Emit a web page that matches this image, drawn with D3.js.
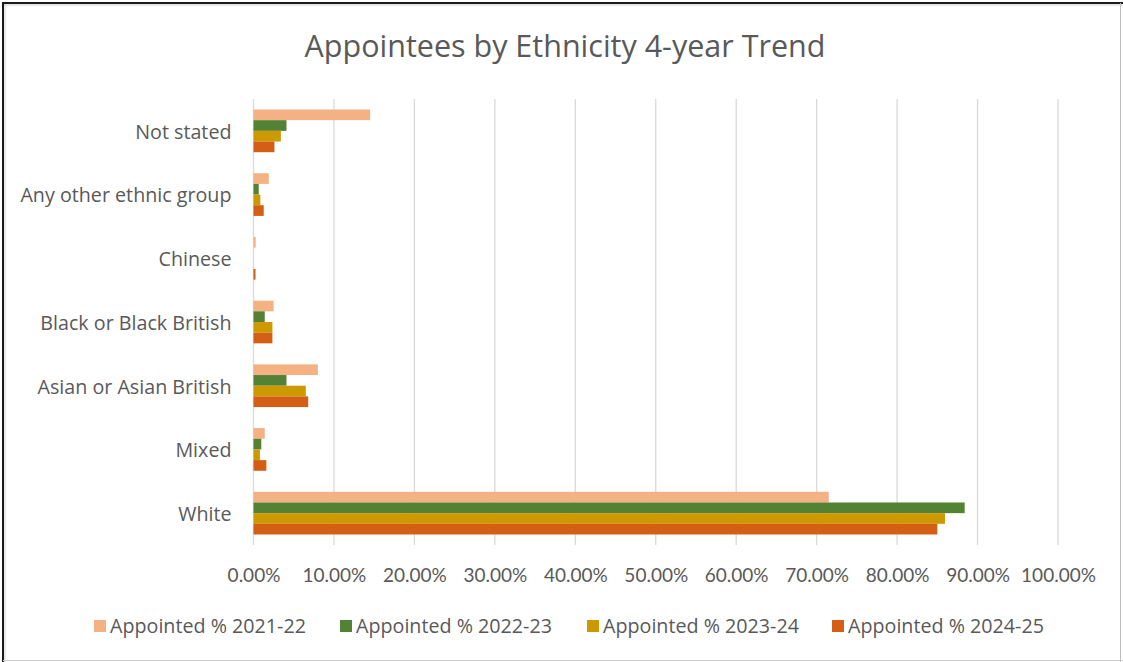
<!DOCTYPE html>
<html>
<head>
<meta charset="utf-8">
<script src="https://cdn.jsdelivr.net/npm/d3@7"></script>
<style>
  html, body { margin: 0; padding: 0; background: #fff; }
  svg { display: block; font-family: "Open Sans", Lato, sans-serif; }
</style>
</head>
<body>
<svg id="chart" width="1123" height="662"></svg>
<script>
// Ethnic groups, listed top to bottom as drawn
const categories = ["Not stated", "Any other ethnic group", "Chinese", "Black or Black British", "Asian or Asian British", "Mixed", "White"];
const seriesNames = ["Appointed % 2021-22", "Appointed % 2022-23", "Appointed % 2023-24", "Appointed % 2024-25"];
const colors = ["#F4B183", "#548235", "#CC9900", "#D45F14"];

// Share of appointees (%) per group, one array per year
const values2122 = [14.5, 1.9, 0.27, 2.5, 8.0, 1.4, 71.5];
const values2223 = [4.1, 0.65, 0.0, 1.4, 4.1, 0.97, 88.4];
const values2324 = [3.4, 0.85, 0.0, 2.35, 6.5, 0.8, 85.95];
const values2425 = [2.6, 1.27, 0.25, 2.35, 6.8, 1.6, 85.0];
const seriesValues = [values2122, values2223, values2324, values2425];

const tickValues = [0, 10, 20, 30, 40, 50, 60, 70, 80, 90, 100];

const svg = d3.select("#chart");
const W = 1123, H = 662;
const textColor = "#595959";

// Frame
svg.append("rect").attr("x", 0).attr("y", 0).attr("width", W).attr("height", H).attr("fill", "#fff");
svg.append("line").attr("x1", 3).attr("x2", 3).attr("y1", 2).attr("y2", H).attr("stroke", "#1a1a1a").attr("stroke-width", 2);
svg.append("line").attr("x1", 2).attr("x2", W).attr("y1", 3).attr("y2", 3).attr("stroke", "#1a1a1a").attr("stroke-width", 2);
svg.append("line").attr("x1", 5).attr("x2", 5).attr("y1", 4).attr("y2", H).attr("stroke", "#d0d0d0").attr("stroke-width", 1);
svg.append("line").attr("x1", 4).attr("x2", W).attr("y1", 5).attr("y2", 5).attr("stroke", "#d0d0d0").attr("stroke-width", 1);
svg.append("line").attr("x1", 1120.5).attr("x2", 1120.5).attr("y1", 3).attr("y2", H).attr("stroke", "#bdbdbd").attr("stroke-width", 1);
svg.append("line").attr("x1", 3).attr("x2", W).attr("y1", 660.5).attr("y2", 660.5).attr("stroke", "#d0d0d0").attr("stroke-width", 1);

// Title
svg.append("text")
  .attr("x", 565).attr("y", 57)
  .attr("text-anchor", "middle")
  .attr("fill", textColor)
  .attr("font-size", 30.5)
  .text("Appointees by Ethnicity 4-year Trend");

const margin = { left: 253.5, right: 1058, top: 99, bottom: 545 };

const x = d3.scaleLinear().domain([0, 100]).range([margin.left, margin.right]);
const y0 = d3.scaleBand().domain(categories).range([margin.top, margin.bottom]).paddingInner(0.33).paddingOuter(0.165);
const y1 = d3.scaleBand().domain(seriesNames).range([0, y0.bandwidth()]);

// Gridlines
svg.append("g")
  .selectAll("line")
  .data(tickValues)
  .join("line")
  .attr("x1", d => x(d)).attr("x2", d => x(d))
  .attr("y1", margin.top).attr("y2", margin.bottom)
  .attr("stroke", "#d9d9d9")
  .attr("stroke-width", 1.3);

// Bars
const groups = svg.append("g")
  .selectAll("g")
  .data(categories)
  .join("g")
  .attr("transform", d => `translate(0,${y0(d)})`);

groups.selectAll("rect")
  .data((d, i) => seriesNames.map((s, j) => ({ s, v: seriesValues[j][i], c: colors[j] })))
  .join("rect")
  .attr("x", x(0))
  .attr("y", d => y1(d.s))
  .attr("width", d => x(d.v) - x(0))
  .attr("height", y1.bandwidth())
  .attr("fill", d => d.c);

// Category axis labels
const yAxis = d3.axisLeft(y0).tickSize(0).tickPadding(22);
const gy = svg.append("g").attr("transform", `translate(${x(0)},0)`).call(yAxis);
gy.select(".domain").remove();
gy.selectAll("text").attr("fill", textColor).attr("font-size", 19.7).attr("font-family", "'Open Sans', sans-serif")
  .attr("dy", "0.4em");

// Value axis labels
const xAxis = d3.axisBottom(x).tickValues(tickValues).tickSize(0).tickPadding(24)
  .tickFormat(d => d.toFixed(2) + "%");
const gx = svg.append("g").attr("transform", `translate(0,${margin.bottom})`).call(xAxis);
gx.select(".domain").remove();
gx.selectAll("text").attr("fill", textColor).attr("font-size", 19).attr("font-family", "Lato, sans-serif");

// Legend
const legendX = [94, 340, 587, 832];
const legend = svg.append("g")
  .selectAll("g")
  .data(seriesNames)
  .join("g")
  .attr("transform", (d, i) => `translate(${legendX[i]},626)`);
legend.append("rect").attr("x", 0).attr("y", -6).attr("width", 12).attr("height", 12).attr("fill", (d, i) => colors[i]);
legend.append("text").attr("x", 16).attr("y", 0).attr("dy", "0.35em")
  .attr("fill", textColor).attr("font-size", 19.7).text(d => d);
</script>
</body>
</html>
